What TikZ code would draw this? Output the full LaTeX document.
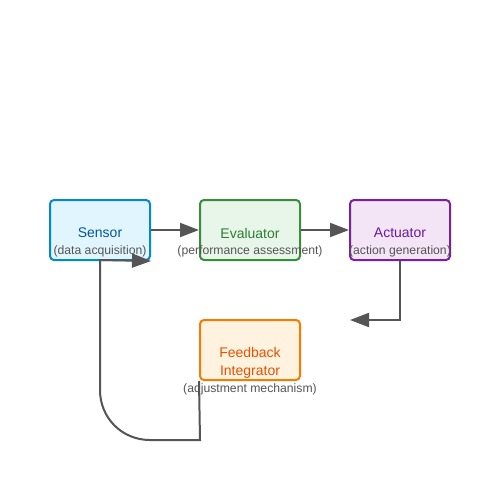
\documentclass[tikz,border=0pt]{standalone}
\usepackage{fontspec}
\setmainfont{Liberation Sans}
\usepackage{xcolor}
\usepackage{tikz}
\usetikzlibrary{arrows.meta}

\definecolor{linegray}{HTML}{555555}
\definecolor{sensfill}{HTML}{E1F5FE}
\definecolor{sensdraw}{HTML}{0288D1}
\definecolor{senstext}{HTML}{01579B}
\definecolor{evalfill}{HTML}{E8F5E9}
\definecolor{evaldraw}{HTML}{388E3C}
\definecolor{evaltext}{HTML}{2E7D32}
\definecolor{actfill}{HTML}{F3E5F5}
\definecolor{actdraw}{HTML}{7B1FA2}
\definecolor{acttext}{HTML}{6A1B9A}
\definecolor{fbfill}{HTML}{FFF3E0}
\definecolor{fbdraw}{HTML}{F57C00}
\definecolor{fbtext}{HTML}{E65100}

\begin{document}
\begin{tikzpicture}[x=1pt, y=-1pt, >={Triangle[length=19pt,width=14pt]},
    box/.style={draw, line width=2pt, rounded corners=4pt, minimum width=100pt, minimum height=60pt, inner sep=0pt},
    title/.style={font=\fontsize{14}{18}\selectfont, align=center, inner sep=0pt},
    sub/.style={font=\fontsize{12.2}{14}\selectfont, text=linegray, inner sep=0pt},
    link/.style={->, draw=linegray, line width=2pt}]
        \fill[white] (0,0) rectangle (500,500);
        \useasboundingbox (0,0) rectangle (500,500);

        \node[box, fill=sensfill, draw=sensdraw] (sensor) at (100,230) {};
        \node[box, fill=evalfill, draw=evaldraw] (evaluator) at (250,230) {};
        \node[box, fill=actfill, draw=actdraw] (actuator) at (400,230) {};
        \node[box, fill=fbfill, draw=fbdraw] (feedback) at (250,350) {};

        \node[title, text=senstext] (sensortxt) at (100,233) {Sensor};
        \node[title, text=evaltext] (evaluatortxt) at (250,233) {Evaluator};
        \node[title, text=acttext] (actuatortxt) at (400,233) {Actuator};
        \node[title, text=fbtext] (feedbacktxt) at (250,362.5) {Feedback\\Integrator};

        \coordinate (back) at (350,320);
        \coordinate (low) at (200,440);

        \draw[link] (sensor.east) -- (evaluator.west);
        \draw[link] (evaluator.east) -- (actuator.west);
        \draw[link] (actuator.south) |- (back);
        \draw[link] (feedback.south west) -- (low) -- (150,440)
            .. controls (122,440) and (100,418) .. (100,390) -- (100,260) -- (sensor.south east);

        \node[sub] (sensorsub) at (100,251.5) {(data acquisition)};
        \node[sub] (evaluatorsub) at (250,251.5) {(performance assessment)};
        \node[sub] (actuatorsub) at (400,251.5) {(action generation)};
        \node[sub] (feedbacksub) at (250,389.5) {(adjustment mechanism)};
      \end{tikzpicture}
\end{document}
